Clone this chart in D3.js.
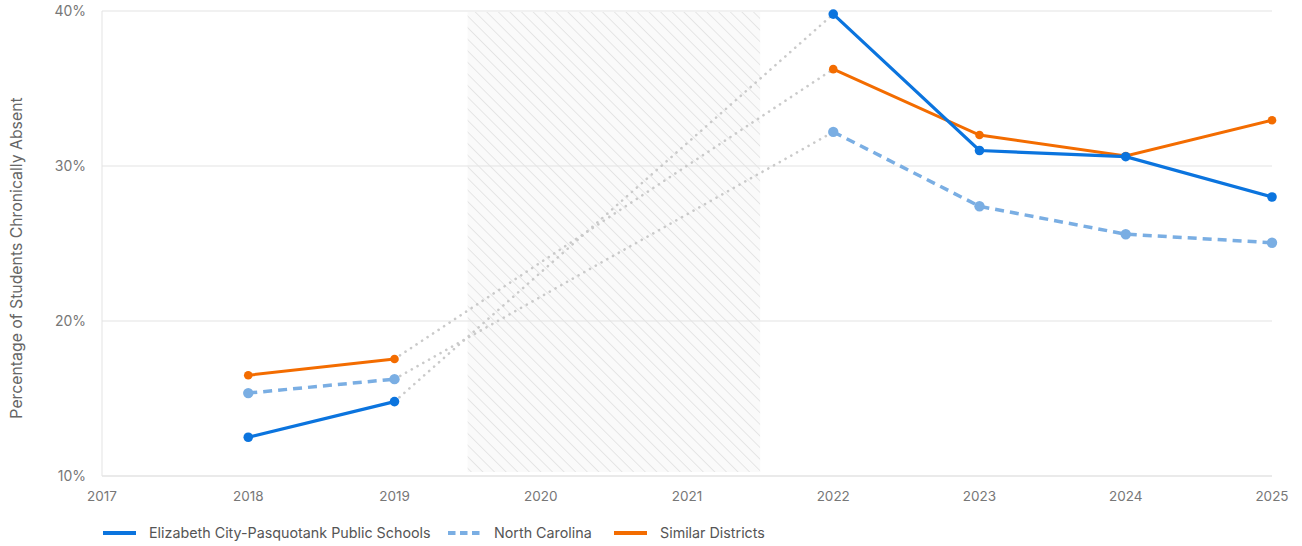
<!DOCTYPE html>
<html><head><meta charset="utf-8">
<script src="https://cdn.jsdelivr.net/npm/d3@7"></script>
<style>body{margin:0;background:#fff;font-family:Inter,"Noto Sans",sans-serif;}</style>
</head><body><svg id="c" width="1302" height="546"></svg>
<script>
const years = [2018, 2019, 2022, 2023, 2024, 2025];
const xTicks = [2017, 2018, 2019, 2020, 2021, 2022, 2023, 2024, 2025];
const yTicks = [10, 20, 30, 40];
const districtVals = [12.5, 14.8, 39.8, 31.0, 30.6, 28.0];
const ncVals = [15.35, 16.25, 32.2, 27.4, 25.6, 25.05];
const similarVals = [16.5, 17.55, 36.25, 32.0, 30.65, 32.95];
const seriesNames = ["Elizabeth City-Pasquotank Public Schools", "North Carolina", "Similar Districts"];
const covidSpan = [2019.5, 2021.5];

const svg = d3.select("#c");
const x = d3.scaleLinear().domain([2017, 2025]).range([102, 1272]);
const y = d3.scaleLinear().domain([10, 40]).range([476, 11]);

// hatch pattern
const defs = svg.append("defs");
const pat = defs.append("pattern").attr("id","hatch").attr("patternUnits","userSpaceOnUse")
  .attr("width",8.2).attr("height",8.2).attr("patternTransform","rotate(45)");
pat.append("rect").attr("width",8.2).attr("height",8.2).attr("fill","#fafafa");
pat.append("line").attr("x1",0).attr("y1",0).attr("x2",8.2).attr("y2",0).attr("stroke","#e0e0e0").attr("stroke-width",1.5);

svg.append("rect").attr("x",x(covidSpan[0])).attr("y",y(40)+1).attr("width",x(covidSpan[1])-x(covidSpan[0]))
  .attr("height",y(10)-y(40)-5).attr("fill","url(#hatch)");

// grid
svg.append("g").selectAll("line").data(yTicks).join("line")
  .attr("x1",x(2017)).attr("x2",x(2025)).attr("y1",d=>y(d)).attr("y2",d=>y(d))
  .attr("stroke","#e3e3e3").attr("stroke-width",d=>d===10?1.5:1);
svg.append("line").attr("x1",x(2017)).attr("x2",x(2017)).attr("y1",y(40)).attr("y2",y(10)).attr("stroke","#e3e3e3");

// y ticks
svg.append("g").selectAll("text").data(yTicks).join("text")
  .attr("x",86).attr("y",d=>y(d)+5).attr("text-anchor","end").attr("fill","#777").attr("font-size",14)
  .text(d=>d+"%");
// x ticks
svg.append("g").selectAll("text").data(xTicks).join("text")
  .attr("x",d=>x(d)).attr("y",501).attr("text-anchor","middle").attr("fill","#777").attr("font-size",13.5)
  .text(d=>d);
// y title
svg.append("text").attr("transform","translate(22,258) rotate(-90)")
  .attr("text-anchor","middle").attr("fill","#666").attr("font-size",15.8)
  .text("Percentage of Students Chronically Absent");

const series = [
  {vals:districtVals, color:"#0b74de", dash:null, w:3.2, r:4.8},
  {vals:ncVals, color:"#7aaee3", dash:"9,6", w:3.5, r:5.2},
  {vals:similarVals, color:"#f36c00", dash:null, w:3, r:4.3}
];
const line = d3.line().x(d=>x(d[0])).y(d=>y(d[1]));
// gap connectors
series.forEach(s=>{
  svg.append("path").attr("d",line([[years[1],s.vals[1]],[years[2],s.vals[2]]]))
    .attr("fill","none").attr("stroke","#cacaca").attr("stroke-width",2.6)
    .attr("stroke-dasharray","0.1,6.5").attr("stroke-linecap","round");
});
[series[1], series[2], series[0]].forEach(s=>{
  const segs = [[0,2],[2,6]];
  segs.forEach(([a,b])=>{
    const pts = years.slice(a,b).map((yr,i)=>[yr,s.vals[a+i]]);
    svg.append("path").attr("d",line(pts)).attr("fill","none").attr("stroke",s.color)
      .attr("stroke-width",s.w).attr("stroke-dasharray",s.dash);
  });
  svg.append("g").selectAll("circle").data(years.map((yr,i)=>[yr,s.vals[i]])).join("circle")
    .attr("cx",d=>x(d[0])).attr("cy",d=>y(d[1])).attr("r",s.r).attr("fill",s.color);
});

// legend
const legX = [103, 448, 614];
const lg = svg.append("g");
series.forEach((s,i)=>{
  lg.append("line").attr("x1",legX[i]).attr("x2",legX[i]+33).attr("y1",533).attr("y2",533)
    .attr("stroke",s.color).attr("stroke-width",4).attr("stroke-dasharray",s.dash?"7.5,4.5":null);
  lg.append("text").attr("x",legX[i]+46).attr("y",538).attr("fill","#555").attr("font-size",14.3).text(seriesNames[i]);
});
</script></body></html>
